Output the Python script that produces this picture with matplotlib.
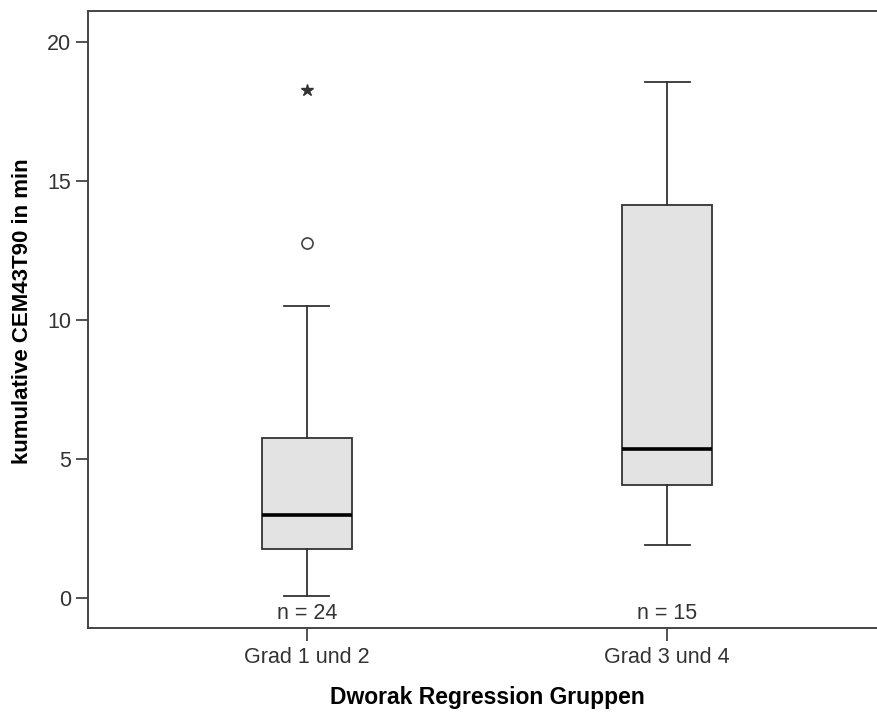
import matplotlib.pyplot as plt

plt.rcParams['font.family'] = ['Liberation Sans', 'DejaVu Sans']

groups = ["Grad 1 und 2", "Grad 3 und 4"]
counts = [24, 15]
whisker_low = [0.06, 1.90]
q1 = [1.74, 4.05]
median = [2.97, 5.35]
q3 = [5.76, 14.15]
whisker_high = [10.51, 18.58]
outliers = [[12.77], []]
extremes = [[18.29], []]

positions = [1, 2]
stats = []
for i, g in enumerate(groups):
    stats.append({
        'label': g,
        'whislo': whisker_low[i],
        'q1': q1[i],
        'med': median[i],
        'q3': q3[i],
        'whishi': whisker_high[i],
        'fliers': outliers[i],
    })

edge = '#333333'
fig = plt.figure(figsize=(8.77, 7.13), dpi=100)
ax = fig.add_axes([88 / 877, 1 - 628 / 713, (886 - 88) / 877, (628 - 11) / 713])

ax.bxp(stats, positions=positions, widths=0.25, capwidths=0.125,
       patch_artist=True, showfliers=True,
       boxprops=dict(facecolor='#e3e3e3', edgecolor=edge, linewidth=1.3),
       medianprops=dict(color='black', linewidth=2.6),
       whiskerprops=dict(color=edge, linewidth=1.3),
       capprops=dict(color=edge, linewidth=1.3),
       flierprops=dict(marker='o', markersize=8, markerfacecolor='none',
                       markeredgecolor='#444444', markeredgewidth=1.2))

# extreme values get a star
for p, ext in zip(positions, extremes):
    if ext:
        ax.plot([p] * len(ext), ext, linestyle='none', marker='*',
                markersize=9, color='#333333')

for p, n in zip(positions, counts):
    ax.text(p, -0.76, f"n = {n}", ha='center', va='baseline',
            fontsize=15.5, color='#333333')

ax.set_xlim(0.392, 2.608)
ax.set_ylim(-1.086, 21.126)
ax.set_yticks([0, 5, 10, 15, 20])
ax.set_xticks(positions)
ax.set_xticklabels(groups)

for s in ax.spines.values():
    s.set_color('#444444')
    s.set_linewidth(1.4)

ax.tick_params(axis='both', length=9, width=1.3, color='#444444',
               labelsize=15.5, labelcolor='#333333')
ax.tick_params(axis='y', pad=3)
ax.tick_params(axis='x', pad=4.5)

ax.set_ylabel("kumulative CEM43T90 in min", fontsize=16, fontweight='bold',
              va='center')
ax.yaxis.set_label_coords(-0.0827, 0.514)
ax.set_xlabel("Dworak Regression Gruppen", fontsize=16.5, fontweight='bold',
              va='baseline')
ax.xaxis.set_label_coords(0.5, -0.1232)

fig.savefig('out.png', dpi=100)
